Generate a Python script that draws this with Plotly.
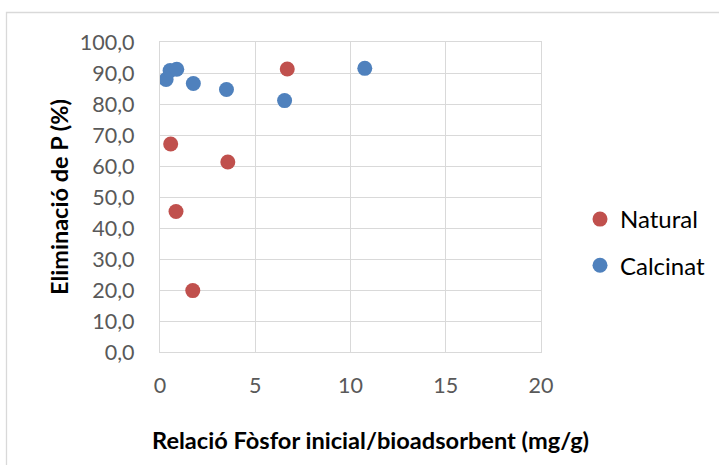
import plotly.graph_objects as go

# Relació fòsfor inicial / bioadsorbent (mg/g) and P removal (%)
natural_x = [6.68, 0.56, 3.56, 0.84, 1.72]
natural_y = [91.3, 67.1, 61.3, 45.3, 19.8]

calcinat_x = [0.32, 0.53, 0.88, 1.75, 3.49, 6.54, 10.75]
calcinat_y = [87.9, 90.8, 91.2, 86.6, 84.7, 81.1, 91.5]

x_ticks = [0, 5, 10, 15, 20]
y_ticks = [0, 10, 20, 30, 40, 50, 60, 70, 80, 90, 100]

RED = "#C0504D"
BLUE = "#4F81BD"
GRID = "#D9D9D9"
FONT = "Lato, 'Open Sans', sans-serif"

fig = go.Figure()
fig.add_trace(go.Scatter(
    x=natural_x, y=natural_y, mode="markers", name="Natural",
    legendgroup="n",
    marker=dict(color=RED, size=15, line=dict(width=0)),
))
fig.add_trace(go.Scatter(
    x=calcinat_x, y=calcinat_y, mode="markers", name="Calcinat",
    legendgroup="c",
    marker=dict(color=BLUE, size=15, line=dict(width=0)),
))

L, R, T, B = 160, 541, 42, 352
W, H = 719, 465
pw, ph = R - L, B - T

def px_to_paper_x(px):
    return (px - L) / pw

def px_to_paper_y(py):
    return (B - py) / ph

fig.update_layout(
    width=W, height=H,
    margin=dict(l=L, r=W - R, t=T, b=H - B, pad=0, autoexpand=False),
    paper_bgcolor="white", plot_bgcolor="white",
    separators=",.",
    font=dict(family=FONT, color="#595959", size=21.5),
    xaxis=dict(
        range=[0, 20], tickvals=x_ticks, tickformat="d",
        showgrid=True, gridcolor=GRID, gridwidth=1.3,
        showline=True, linecolor=GRID, linewidth=1.3, mirror=True,
        zeroline=False, ticks="", ticklabelstandoff=14,
    ),
    yaxis=dict(
        range=[0, 100], tickvals=y_ticks, tickformat=".1f",
        showgrid=True, gridcolor=GRID, gridwidth=1.3,
        showline=True, linecolor=GRID, linewidth=1.3, mirror=True,
        zeroline=False, ticks="", ticklabelstandoff=20,
        title=dict(text="<b>Eliminació de P (%)</b>",
                   font=dict(family=FONT, color="black", size=23.5), standoff=4),
    ),
    legend=dict(
        x=px_to_paper_x(580), y=px_to_paper_y(197), xanchor="left", yanchor="top",
        font=dict(family=FONT, color="black", size=24),
        tracegroupgap=12, itemwidth=30, bgcolor="rgba(0,0,0,0)",
    ),
    annotations=[dict(
        text="<b>Relació Fòsfor inicial/bioadsorbent (mg/g)</b>",
        xref="paper", yref="paper",
        x=px_to_paper_x(370), y=px_to_paper_y(440),
        xanchor="center", yanchor="middle", showarrow=False,
        font=dict(family=FONT, color="black", size=23.6),
    )],
    shapes=[dict(
        type="rect", xref="paper", yref="paper",
        x0=px_to_paper_x(6.5), x1=px_to_paper_x(760),
        y0=px_to_paper_y(520), y1=px_to_paper_y(12.5),
        line=dict(color=GRID, width=1.3), fillcolor="rgba(0,0,0,0)", layer="below",
    )],
)

fig.write_html("out.html")
